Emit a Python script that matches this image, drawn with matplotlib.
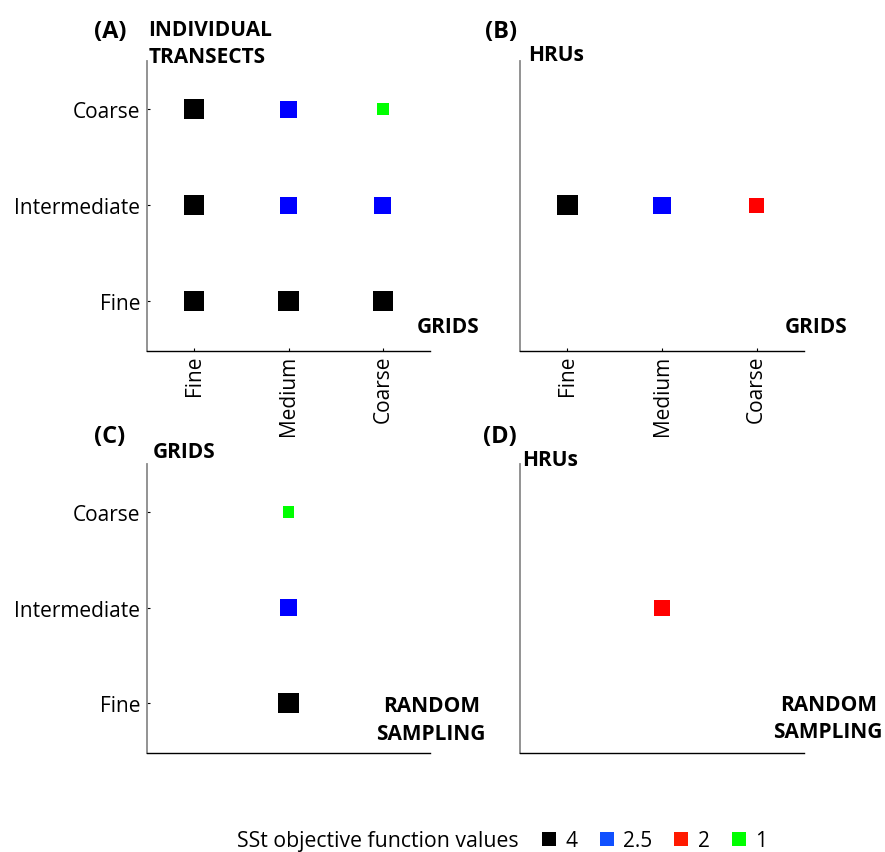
import matplotlib.pyplot as plt
from matplotlib.lines import Line2D

plt.rcParams['font.family'] = ['Open Sans', 'DejaVu Sans']

# categories
x_cats = ['Fine', 'Medium', 'Coarse']
y_cats = ['Fine', 'Intermediate', 'Coarse']

# SSt objective function values per panel (x category, y category, value)
a_x = ['Fine', 'Medium', 'Coarse', 'Fine', 'Medium', 'Coarse', 'Fine', 'Medium', 'Coarse']
a_y = ['Fine', 'Fine', 'Fine', 'Intermediate', 'Intermediate', 'Intermediate', 'Coarse', 'Coarse', 'Coarse']
a_v = [4, 4, 4, 4, 2.5, 2.5, 4, 2.5, 1]

b_x = ['Fine', 'Medium', 'Coarse']
b_y = ['Intermediate', 'Intermediate', 'Intermediate']
b_v = [4, 2.5, 2]

c_x = ['Medium', 'Medium', 'Medium']
c_y = ['Fine', 'Intermediate', 'Coarse']
c_v = [4, 2.5, 1]

d_x = ['Medium']
d_y = ['Intermediate']
d_v = [2]

legend_vals = [4, 2.5, 2, 1]

# style per value
colors = {4: 'black', 2.5: '#0000ff', 2: '#ff0000', 1: '#00ff00'}
legend_colors = {4: 'black', 2.5: '#1050ff', 2: '#ff1a00', 1: '#00ff00'}
sizes = {4: 218, 2.5: 150, 2: 117, 1: 69}

fig = plt.figure(figsize=(8.85, 8.53), dpi=100)

W, H = 885, 853
def box(x0, y0, x1, y1):
    return [x0 / W, 1 - y1 / H, (x1 - x0) / W, (y1 - y0) / H]

axA = fig.add_axes(box(147, 62, 430, 352))
axB = fig.add_axes(box(520, 62, 804, 352))
axC = fig.add_axes(box(147, 465, 430, 754))
axD = fig.add_axes(box(520, 465, 804, 754))

def draw(ax, xs, ys, vs):
    xi = [x_cats.index(x) for x in xs]
    yi = [y_cats.index(y) for y in ys]
    ax.scatter(xi, yi, s=[sizes[v] for v in vs], c=[colors[v] for v in vs],
               marker='s', linewidths=0, zorder=3)
    ax.set_xlim(-0.5, 2.5)
    ax.set_ylim(-0.52, 2.5)
    for s in ['top', 'right']:
        ax.spines[s].set_visible(False)
    ax.spines['left'].set_color('#8a8a8a')
    ax.spines['left'].set_linewidth(1.3)
    ax.spines['bottom'].set_color('black')
    ax.spines['bottom'].set_linewidth(1.0)
    ax.tick_params(direction='in', length=2.5, width=0.8, labelsize=15)
    ax.tick_params(axis='x', pad=2.5)
    ax.tick_params(axis='y', pad=5)

draw(axA, a_x, a_y, a_v)
draw(axB, b_x, b_y, b_v)
draw(axC, c_x, c_y, c_v)
draw(axD, d_x, d_y, d_v)

for ax in [axA, axB]:
    ax.set_xticks(range(3))
    ax.set_xticklabels(x_cats, rotation=90)
for ax in [axA, axC]:
    ax.set_yticks(range(3))
    ax.set_yticklabels(y_cats)
axB.set_yticks([])
axC.set_xticks([])
axD.set_xticks([])
axD.set_yticks([])

bold = dict(fontsize=15, fontweight='bold')
letter = dict(fontsize=17, fontweight='bold')

# panel letters
axA.text(-0.131, 1.103, '(A)', transform=axA.transAxes, ha='center', va='center', **letter)
axB.text(-0.067, 1.103, '(B)', transform=axB.transAxes, ha='center', va='center', **letter)
axC.text(-0.131, 1.097, '(C)', transform=axC.transAxes, ha='center', va='center', **letter)
axD.text(-0.070, 1.097, '(D)', transform=axD.transAxes, ha='center', va='center', **letter)

# axis names
axA.text(0.004, 1.062, 'INDIVIDUAL\nTRANSECTS', transform=axA.transAxes, ha='left',
         va='center', linespacing=1.34, **bold)
axA.text(0.954, 0.083, 'GRIDS', transform=axA.transAxes, ha='left', va='center', **bold)
axB.text(0.028, 1.022, 'HRUs', transform=axB.transAxes, ha='left', va='center', **bold)
axB.text(0.933, 0.083, 'GRIDS', transform=axB.transAxes, ha='left', va='center', **bold)
axC.text(0.021, 1.042, 'GRIDS', transform=axC.transAxes, ha='left', va='center', **bold)
axC.text(1.004, 0.116, 'RANDOM\nSAMPLING', transform=axC.transAxes, ha='center',
         va='center', multialignment='center', linespacing=1.42, **bold)
axD.text(0.007, 1.017, 'HRUs', transform=axD.transAxes, ha='left', va='center', **bold)
axD.text(1.085, 0.121, 'RANDOM\nSAMPLING', transform=axD.transAxes, ha='center',
         va='center', multialignment='center', linespacing=1.42, **bold)

# legend
fig.text(519 / W, 1 - 842 / H, 'SSt objective function values', ha='right', va='center', fontsize=15.3)
handles = [Line2D([], [], marker='s', linestyle='none', markersize=9.4,
                  markerfacecolor=legend_colors[v], markeredgewidth=0, label=str(v))
           for v in legend_vals]
fig.legend(handles=handles, loc='center left', bbox_to_anchor=(541 / W, 1 - 842 / H),
           ncol=4, frameon=False, fontsize=15, handlelength=0.8, handletextpad=0.38,
           columnspacing=1.0, borderpad=0, borderaxespad=0)

fig.savefig('out.png', dpi=100)
